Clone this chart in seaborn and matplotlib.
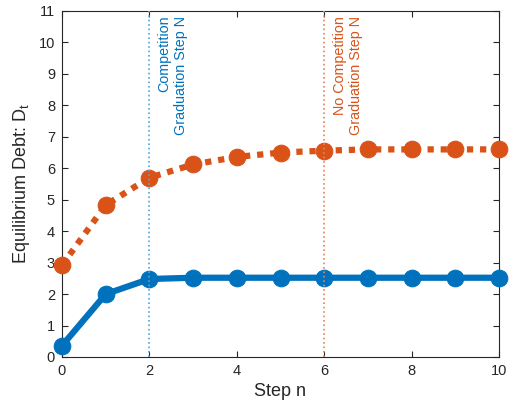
import numpy as np
import pandas as pd
import matplotlib
matplotlib.use("Agg")
import matplotlib.pyplot as plt
import seaborn as sns

steps = [0, 1, 2, 3, 4, 5, 6, 7, 8, 9, 10]
competition = [0.36, 2.0, 2.48, 2.52, 2.52, 2.52, 2.52, 2.52, 2.52, 2.52, 2.52]
no_competition = [2.92, 4.83, 5.70, 6.12, 6.36, 6.50, 6.56, 6.60, 6.60, 6.60, 6.60]
grad_comp = 2
grad_nocomp = 6
xticks = [0, 2, 4, 6, 8, 10]
yticks = list(range(0, 12))

sns.set_theme(style="ticks")
plt.rcParams['font.family'] = ['Liberation Sans', 'DejaVu Sans']

blue = "#0072BD"
orange = "#D95319"
txt = "#262626"

fig = plt.figure(figsize=(5.09, 4.04), dpi=100)
ax = fig.add_axes([62/509, 47/404, 437/509, 346/404])

df = pd.DataFrame({"step": steps, "comp": competition, "nocomp": no_competition})

sns.lineplot(data=df, x="step", y="nocomp", ax=ax, color=orange, linewidth=4.5,
             linestyle=(0, (1.0, 1.1)), marker="o", markersize=12,
             markeredgecolor=orange, markerfacecolor=orange, zorder=3)
sns.lineplot(data=df, x="step", y="comp", ax=ax, color=blue, linewidth=4.5,
             marker="o", markersize=12, markeredgecolor=blue,
             markerfacecolor=blue, zorder=4)
ax.lines[0].set_dash_capstyle("butt")

ax.axvline(grad_comp, color="#4DA6E0", linestyle=":", linewidth=1.2, zorder=5)
ax.axvline(grad_nocomp, color="#E8825A", linestyle=":", linewidth=1.2, zorder=5)

ax.text(grad_comp + 0.19, 10.85, "Competition\nGraduation Step N", rotation=90,
        ha="left", va="top", multialignment="right", color=blue, fontsize=10.3)
ax.text(grad_nocomp + 0.19, 10.85, "No Competition\nGraduation Step N", rotation=90,
        ha="left", va="top", multialignment="right", color=orange, fontsize=10.3)

ax.set_xlim(0, 10)
ax.set_ylim(0, 11)
ax.set_xticks(xticks)
ax.set_yticks(yticks)
ax.set_xlabel("Step n", fontsize=13, color=txt, labelpad=4)
ax.set_ylabel(r"Equilibrium Debt: D$_\mathregular{t}$", fontsize=13, color=txt, labelpad=5)
ax.tick_params(direction="in", top=True, right=True, labelsize=10.5, colors=txt,
               length=4, width=0.8, pad=5)
for s in ax.spines.values():
    s.set_visible(True)
    s.set_color(txt)
    s.set_linewidth(0.8)
for m in ax.lines[:2]:
    m.set_clip_on(False)

fig.savefig("out.png", dpi=100)
